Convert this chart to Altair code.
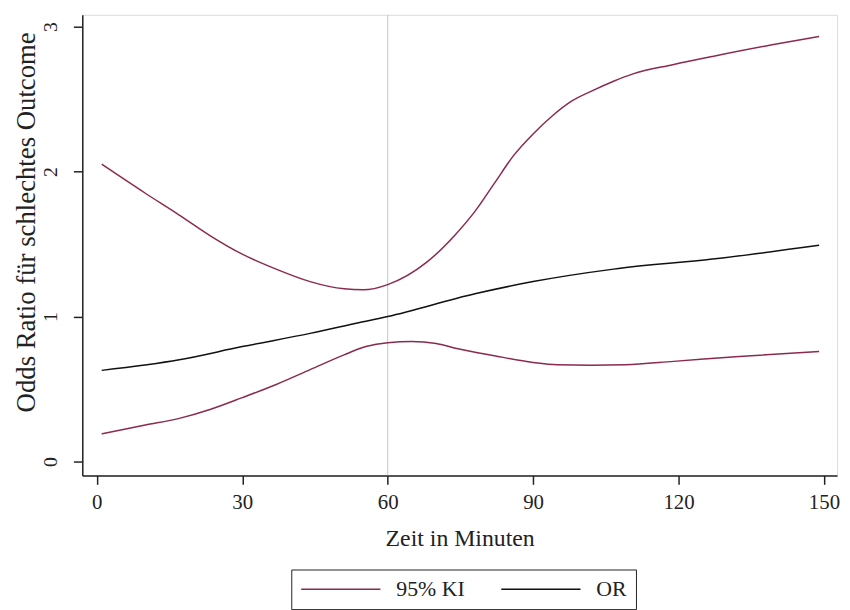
import altair as alt
import pandas as pd

# ---- data ----
minutes_ci_upper = [1, 10, 17, 23.5, 30, 37, 44, 51, 55, 60, 68, 74, 78, 82, 86, 90, 94, 98,
                    102.5, 106.6, 110.6, 118.8, 127, 139.3, 149]
ci_upper = [2.05, 1.85, 1.70, 1.555, 1.43, 1.327, 1.241, 1.191, 1.184, 1.22, 1.373, 1.566,
            1.725, 1.918, 2.111, 2.259, 2.384, 2.486, 2.561, 2.622, 2.673, 2.736, 2.793, 2.873, 2.93]

minutes_ci_lower = [1, 10, 17, 23.5, 30, 37, 44, 51, 55.5, 60, 65, 70, 74, 82, 90, 95, 102,
                    109, 119, 132.5, 149]
ci_lower = [0.191, 0.252, 0.298, 0.361, 0.441, 0.532, 0.634, 0.736, 0.793, 0.82, 0.828, 0.815,
            0.782, 0.730, 0.684, 0.668, 0.665, 0.668, 0.691, 0.725, 0.759]

minutes_or = [1, 17, 30, 44, 54, 60, 78, 90, 106.6, 127, 149]
odds_ratio = [0.629, 0.702, 0.793, 0.884, 0.957, 1.0, 1.157, 1.241, 1.327, 1.396, 1.491]

reference_minute = [60]
series_names = ["95% KI", "OR"]
x_ticks = [0, 30, 60, 90, 120, 150]
y_ticks = [0, 1, 2, 3]

FONT = "Liberation Serif"
MAROON = "#8b2a4f"

rows = []
for m, v in zip(minutes_ci_upper, ci_upper):
    rows.append({"minute": m, "value": v, "series": "95% KI", "part": "upper"})
for m, v in zip(minutes_ci_lower, ci_lower):
    rows.append({"minute": m, "value": v, "series": "95% KI", "part": "lower"})
for m, v in zip(minutes_or, odds_ratio):
    rows.append({"minute": m, "value": v, "series": "OR", "part": "or"})
df = pd.DataFrame(rows)

x_scale = alt.Scale(domain=[-3, 152.7], nice=False, zero=False)
y_scale = alt.Scale(domain=[-0.095, 3.08], nice=False, zero=False)

rule = alt.Chart(pd.DataFrame({"minute": reference_minute})).mark_rule(
    color="#c4c4c4", strokeWidth=1
).encode(x=alt.X("minute:Q", scale=x_scale))

lines = alt.Chart(df).mark_line(strokeWidth=1.5, interpolate="monotone").encode(
    x=alt.X(
        "minute:Q",
        scale=x_scale,
        axis=alt.Axis(
            values=x_ticks, title="Zeit in Minuten", grid=False,
            domainColor="#222222", domainWidth=1.5, tickColor="#222222", tickWidth=1.5,
            tickSize=9, labelPadding=7, labelFont=FONT, labelFontSize=21, labelColor="#222222",
            titleFont=FONT, titleFontSize=24, titleFontWeight="normal", titleColor="#222222",
            titleBaseline="alphabetic", titleY=71,
        ),
    ),
    y=alt.Y(
        "value:Q",
        scale=y_scale,
        axis=alt.Axis(
            values=y_ticks, title="Odds Ratio für schlechtes Outcome", grid=False,
            domainColor="#222222", domainWidth=1.5, tickColor="#222222", tickWidth=1.5,
            tickSize=9, labelPadding=13, labelAngle=270, labelAlign="center",
            labelBaseline="bottom", labelFont=FONT, labelFontSize=20, labelColor="#222222",
            titleFont=FONT, titleFontSize=27, titleFontWeight="normal", titleColor="#222222",
            titleAngle=270, titleBaseline="alphabetic", titleAlign="center",
            titleX=-48, titleY=209,
        ),
    ),
    color=alt.Color(
        "series:N",
        scale=alt.Scale(domain=series_names, range=[MAROON, "#111111"]),
        legend=alt.Legend(
            title=None, orient="none", direction="horizontal", legendX=211, legendY=560,
            symbolType="M-1,0H7", symbolSize=400, symbolStrokeWidth=1.5,
            labelFont=FONT, labelFontSize=22, labelColor="#222222", labelOffset=75,
            columnPadding=33, padding=9, strokeColor="#222222", fillColor="white",
        ),
    ),
    detail="part:N",
)

chart = alt.layer(rule, lines).properties(
    width=762,
    height=465,
    padding={"left": 75, "top": 4, "right": 5, "bottom": 133},
    autosize=alt.AutoSizeParams(type="none"),
).configure_view(stroke=None).configure(background="white")

chart.save("out.html", embed_options={"renderer": "svg", "actions": False})
